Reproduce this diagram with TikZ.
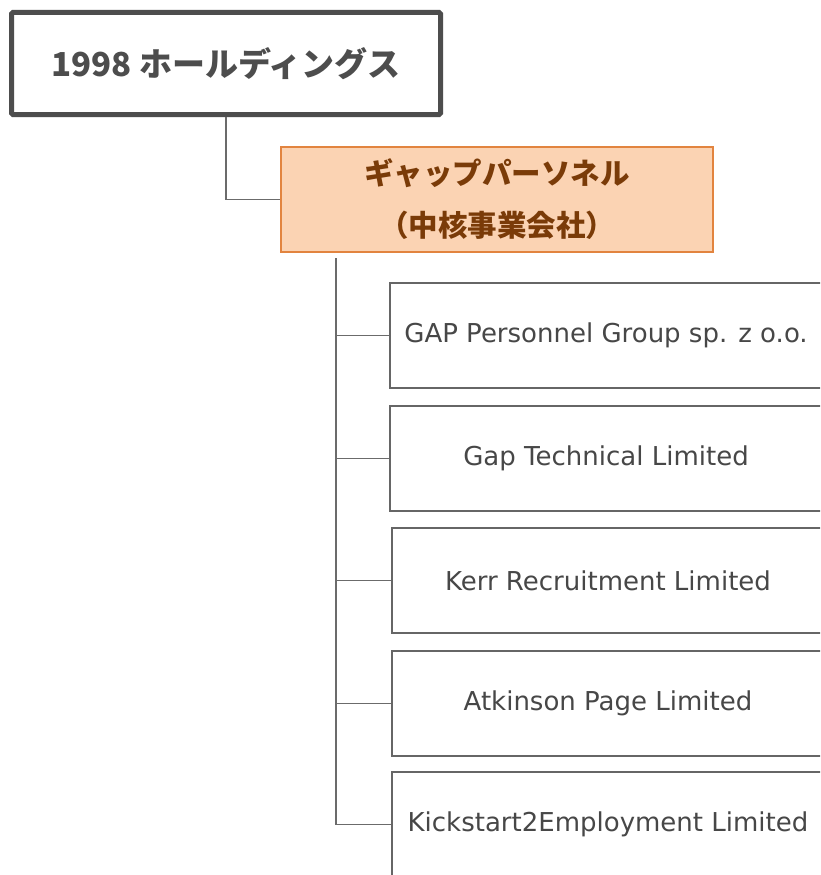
\documentclass[tikz,border=0pt]{standalone}
\usepackage{fontspec}
\newfontfamily\cjk{Noto Sans CJK JP}
\newfontfamily\lat{DejaVu Sans}
\definecolor{topgray}{HTML}{4D4D4D}
\definecolor{linegray}{HTML}{6B6B6B}
\definecolor{boxgray}{HTML}{666666}
\definecolor{txtgray}{HTML}{474747}
\definecolor{orfill}{HTML}{FBD3B3}
\definecolor{ordraw}{HTML}{E2843F}
\definecolor{ortext}{HTML}{7A3B08}
\tikzset{
  topbox/.style={draw=topgray, line width=5pt, rounded corners=1.5pt, minimum width=429pt, minimum height=102pt, inner sep=0pt, text=topgray, font=\cjk\bfseries\fontsize{33}{38}\selectfont},
  corebox/.style={draw=ordraw, fill=orfill, line width=1.5pt, minimum width=432pt, minimum height=105pt, inner sep=0pt, text=ortext, align=center, font=\cjk\bfseries\fontsize{29.5}{52}\selectfont},
  childbox/.style={draw=boxgray, line width=1.5pt, minimum width=432pt, minimum height=105pt, inner sep=0pt, text=txtgray, font=\lat\fontsize{26}{30}\selectfont},
  conn/.style={draw=linegray, line width=1.4pt}
}
\begin{document}
\begin{tikzpicture}[x=1pt,y=-1pt]
\useasboundingbox (0,0) rectangle (820,875);
\clip (0,0) rectangle (820,875);
\fill[white] (0,0) rectangle (820,875);
\node[topbox] (top) at (226,63.5) {\raisebox{-2pt}{1998 ホールディングス}};
\node[corebox] (core) at (497,199.5) {ギャップパーソネル\\（中核事業会社）};
\node[childbox] (c1) at (606,335.5) {GAP Personnel Group sp. z o.o.};
\node[childbox] (c2) at (606,458.5) {Gap Technical Limited};
\node[childbox] (c3) at (608,580.5) {Kerr Recruitment Limited};
\node[childbox] (c4) at (608,703.5) {Atkinson Page Limited};
\node[childbox] (c5) at (608,824.5) {Kickstart2Employment Limited};
\coordinate (vtop) at (336,258);
\draw[conn] (top.south) |- (core.west);
\draw[conn] (vtop) |- (c5.west);
\draw[conn] (vtop |- c1.west) -- (c1.west);
\draw[conn] (vtop |- c2.west) -- (c2.west);
\draw[conn] (vtop |- c3.west) -- (c3.west);
\draw[conn] (vtop |- c4.west) -- (c4.west);
\end{tikzpicture}
\end{document}
